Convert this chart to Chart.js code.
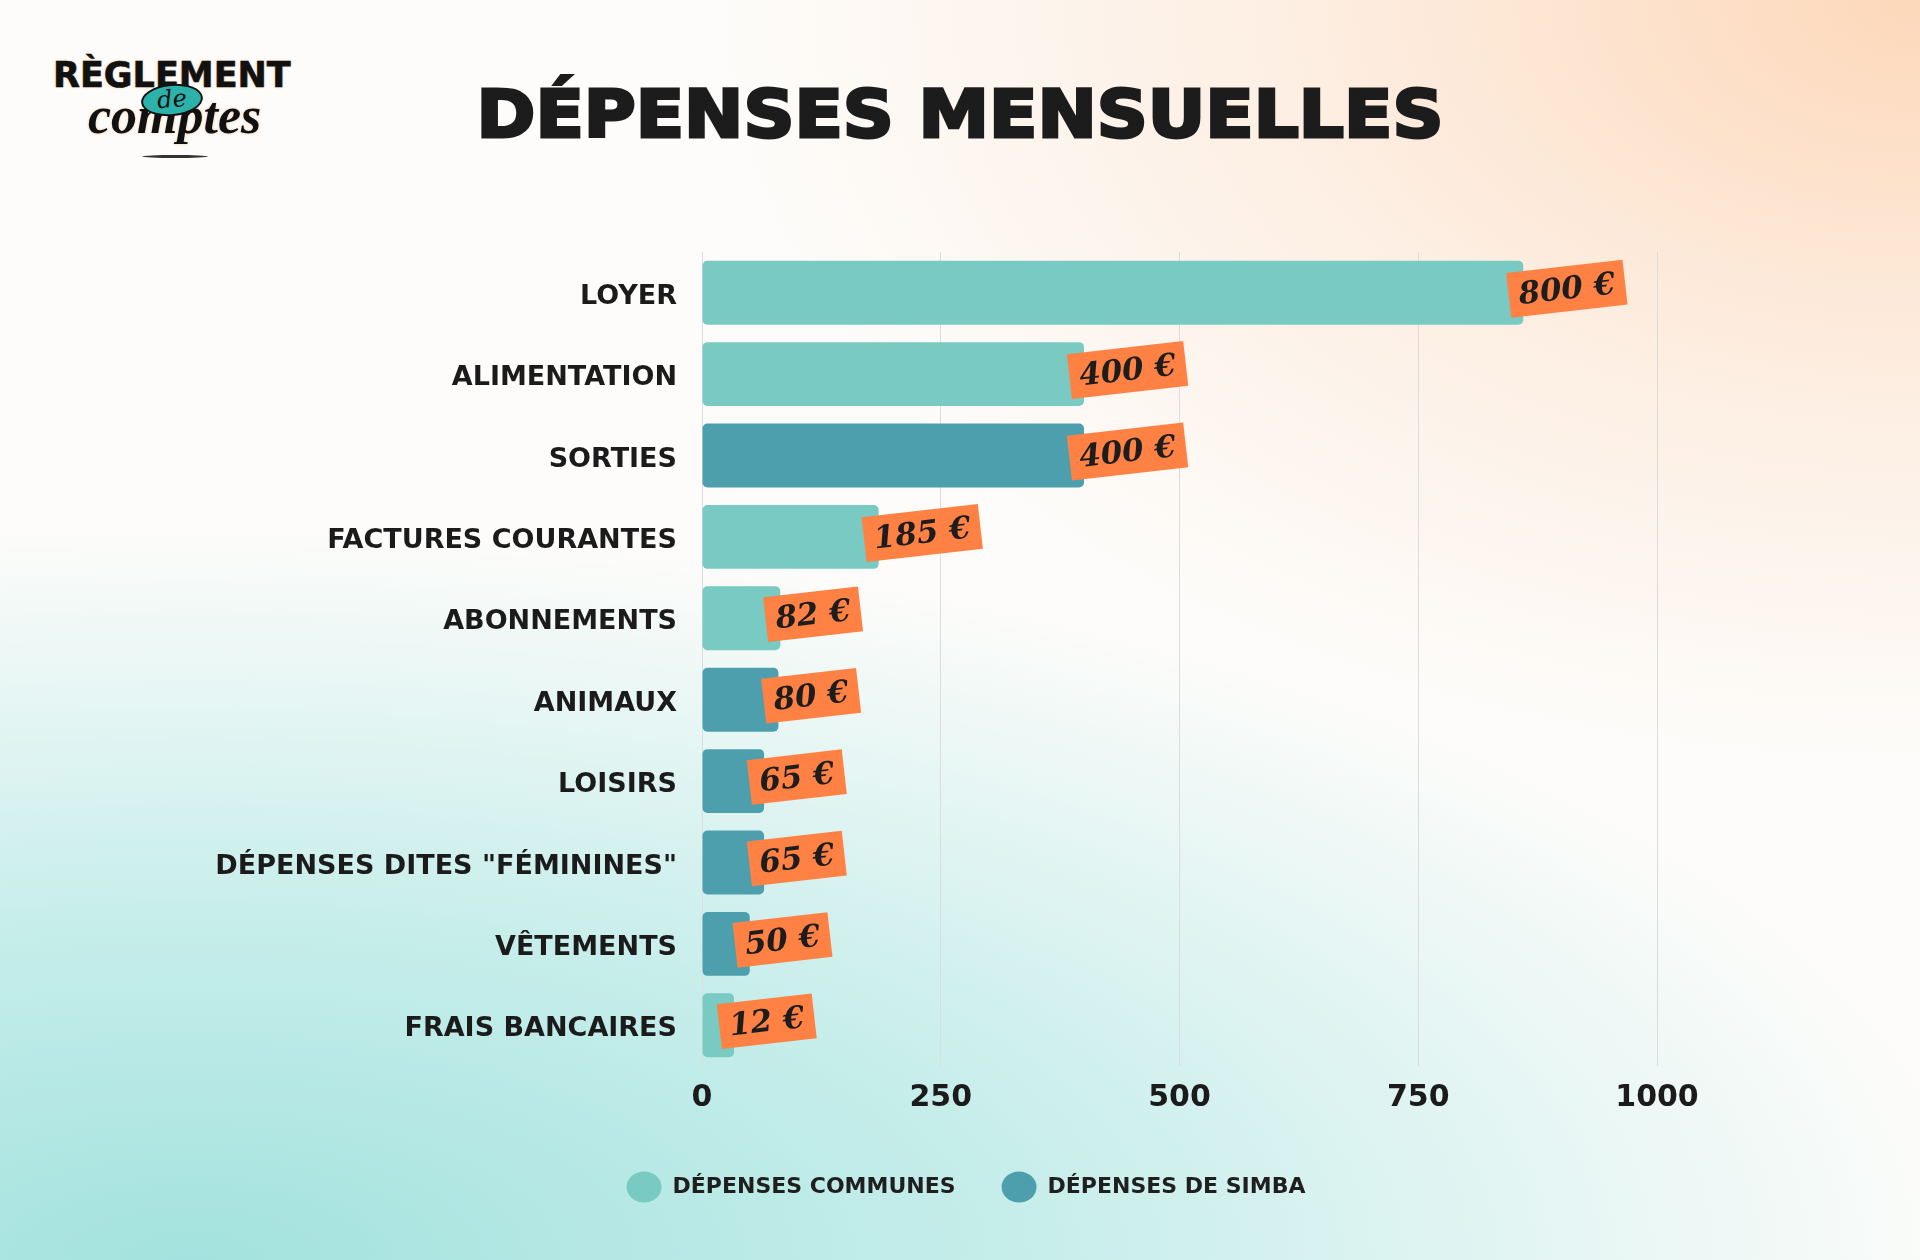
<!DOCTYPE html>
<html lang="fr">
<head>
<meta charset="utf-8">
<title>Dépenses mensuelles</title>
<script src="https://cdn.jsdelivr.net/npm/chart.js@4.4.1/dist/chart.umd.min.js"></script>
<style>
  html, body { margin: 0; padding: 0; }
  body {
    width: 1920px; height: 1260px; position: relative; overflow: hidden;
    font-family: "DejaVu Sans", sans-serif;
    background:
      radial-gradient(ellipse 1500px 950px at 100% 0%, rgba(253,216,186,1) 0%, rgba(253,228,208,0.6) 40%, rgba(255,250,246,0) 80%),
      radial-gradient(ellipse 2100px 860px at 10% 100%, rgba(163,226,222,1) 0%, rgba(185,234,231,0.8) 40%, rgba(232,247,246,0) 85%),
      #fdfcfa;
  }
  #chart { position: absolute; left: 0; top: 0; }
  .title {
    position: absolute; left: 0; top: 82px; width: 1920px; text-align: center;
    font: bold 65px/65px "DejaVu Sans", sans-serif; color: #1c1c1c;
    -webkit-text-stroke: 3px #1c1c1c;
    transform: scaleX(1.09);
  }
  .logo1 {
    position: absolute; left: 53px; top: 58px;
    font: bold 35px/35px "DejaVu Sans", sans-serif; color: #111;
    -webkit-text-stroke: 0.6px #111;
    text-shadow: 0 0 3px #f6c8a0;
  }
  .logo-de {
    position: absolute; left: 141px; top: 84px; width: 58px; height: 28px;
    border: 2px solid #111; border-radius: 50%; background: #2bb3ab;
    transform: rotate(-5deg);
    font: italic 24px/26px "DejaVu Serif", serif; color: #111; text-align: center;
  }
  .logo2 {
    position: absolute; left: 88px; top: 90px;
    font: italic bold 52px/52px "Liberation Serif", serif; color: #111;
    text-shadow: 0 0 3px #f6c8a0;
  }
  .swoosh {
    position: absolute; left: 142px; top: 155px; width: 66px; height: 3px;
    border-radius: 50%; background: #333;
  }
</style>
</head>
<body>
<div class="logo1">RÈGLEMENT</div>
<div class="logo2">comptes</div>
<div class="logo-de">de</div>
<div class="swoosh"></div>
<div class="title">DÉPENSES MENSUELLES</div>
<canvas id="chart" width="1920" height="1260"></canvas>

<script>
/* data */
var categories = ['LOYER', 'ALIMENTATION', 'SORTIES', 'FACTURES COURANTES', 'ABONNEMENTS',
  'ANIMAUX', 'LOISIRS', 'DÉPENSES DITES "FÉMININES"', 'VÊTEMENTS', 'FRAIS BANCAIRES'];
// bar lengths as drawn in the picture (null = belongs to the other series)
var communes = [860, 400, null, 185, 82, null, null, null, null, 12];
var simba    = [null, null, 400, null, null, 80, 65, 65, 50, null];
// amounts written on the orange tags
var tagTexts = ['800 €', '400 €', '400 €', '185 €', '82 €', '80 €', '65 €', '65 €', '50 €', '12 €'];
var xTicks = [0, 250, 500, 750, 1000];

var colCommunes = '#78cac3';
var colSimba = '#4e9fad';

/* orange price tags at the end of each bar */
var tagPlugin = {
  id: 'priceTags',
  afterDatasetsDraw: function (chart) {
    var ctx = chart.ctx;
    chart.data.datasets.forEach(function (ds, di) {
      chart.getDatasetMeta(di).data.forEach(function (bar, i) {
        if (ds.data[i] == null) return;
        var txt = tagTexts[i];
        ctx.save();
        ctx.font = 'italic bold 31px "DejaVu Serif"';
        var w = ctx.measureText(txt).width + 20;
        var h = 45;
        ctx.translate(bar.x - 15 + w / 2, bar.y - 4);
        ctx.rotate(-6.5 * Math.PI / 180);
        ctx.fillStyle = '#ff8244';
        ctx.fillRect(-w / 2, -h / 2, w, h);
        ctx.fillStyle = '#1d1d1d';
        ctx.textAlign = 'center';
        ctx.textBaseline = 'middle';
        ctx.fillText(txt, 0, 2);
        ctx.restore();
      });
    });
  }
};

var ctx = document.getElementById('chart').getContext('2d');
var myChart = new Chart(ctx, {
  type: 'bar',
  data: {
    labels: categories,
    datasets: [{
      label: 'DÉPENSES COMMUNES',
      data: communes,
      backgroundColor: colCommunes,
    }, {
      label: 'DÉPENSES DE SIMBA',
      data: simba,
      backgroundColor: colSimba,
    }]
  },
  options: {
    indexAxis: 'y',
    responsive: false,
    animation: false,
    layout: { padding: { left: 12, right: 0, top: 252, bottom: 52 } },
    datasets: {
      bar: {
        categoryPercentage: 1,
        barPercentage: 0.785,
        borderRadius: 5,
        borderSkipped: false,
        minBarLength: 32
      }
    },
    scales: {
      x: {
        stacked: true,
        min: 0, max: 1000,
        afterBuildTicks: function (s) { s.ticks = xTicks.map(function (v) { return { value: v }; }); },
        grid: { color: '#dcdcdc', lineWidth: 1, drawTicks: false },
        border: { display: false },
        ticks: {
          padding: 14,
          color: '#1b1b1b',
          callback: function (v) { return String(v); },
          font: { family: 'DejaVu Sans', weight: 'bold', size: 30 }
        }
      },
      y: {
        stacked: true,
        afterFit: function (s) { s.width = 690; },
        grid: { display: false, drawTicks: false },
        border: { display: false },
        ticks: {
          padding: 25,
          labelOffset: 4,
          color: '#1b1b1b',
          font: { family: 'DejaVu Sans', weight: 'bold', size: 27 }
        }
      },
      // empty right axis, only keeps the right margin so the legend stays centred on the page
      spacer: {
        type: 'linear',
        position: 'right',
        min: 0, max: 1,
        afterFit: function (s) { s.width = 263; },
        grid: { display: false, drawTicks: false },
        border: { display: false },
        ticks: { display: false }
      }
    },
    plugins: {
      legend: {
        position: 'bottom',
        labels: {
          usePointStyle: true,
          pointStyle: 'circle',
          pointStyleWidth: 35,
          boxHeight: 22,
          padding: 46,
          color: '#1f1f1f',
          font: { family: 'DejaVu Sans', weight: 'bold', size: 22 }
        }
      },
      tooltip: { enabled: false }
    }
  },
  plugins: [tagPlugin]
});
</script>
</body>
</html>
